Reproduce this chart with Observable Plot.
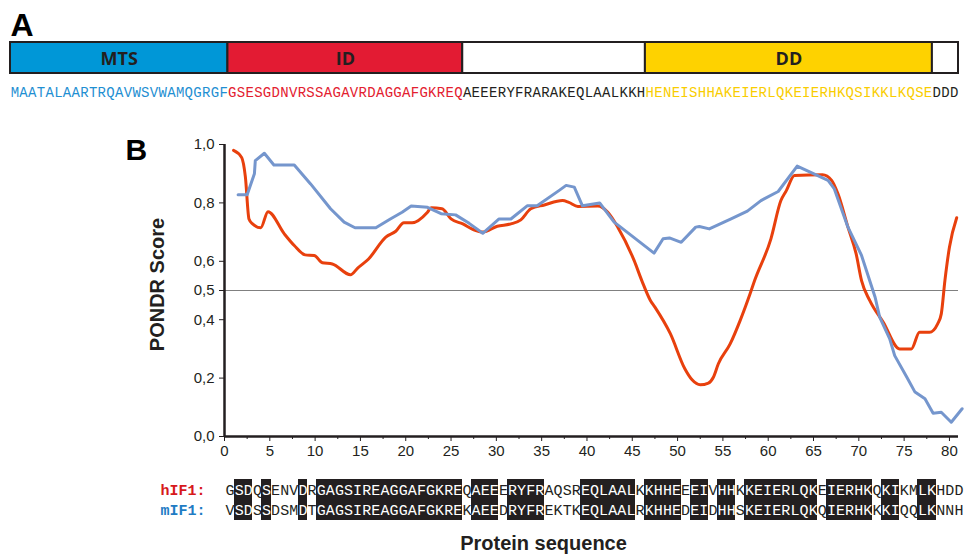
<!DOCTYPE html>
<html><head><meta charset="utf-8">
<script src="https://cdn.jsdelivr.net/npm/d3@7"></script>
<script src="https://cdn.jsdelivr.net/npm/@observablehq/plot@0.6"></script>
<style>
body{margin:0;background:#fff;}
#fig{position:relative;width:966px;height:559px;overflow:hidden;background:#fff;}
#fig > svg{position:absolute;left:0;}
</style></head><body><div id="fig"></div>
<script>
// ---- Panel A data ----
const domainNames = ["MTS", "ID", "", "DD", ""];
const domainSeqs = ["MAATALAARTRQAVWSVWAMQGRGF", "GSESGDNVRSSAGAVRDAGGAFGKREQ", "AEEERYFRARAKEQLAALKKH", "HENEISHHAKEIERLQKEIERHKQSIKKLKQSE", "DDD"];
const domainFill = ["#0097d7", "#e31b33", "#ffffff", "#fed200", "#ffffff"];
const seqColors = ["#1f8fd2", "#e3202f", "#231f20", "#f9cd00", "#231f20"];

// ---- Panel B data (PONDR score vs residue) ----
const hIF1_x = [1.0,1.9,2.3,2.7,3.1,4.0,4.8,6.6,7.7,8.9,9.9,10.8,11.9,13.9,14.7,15.9,17.8,18.9,19.8,20.7,22.4,22.8,24.0,25.0,26.3,27.5,28.5,30.1,31.6,32.7,33.8,35.3,37.3,38.0,39.0,41.2,42.3,43.4,45.2,46.05,47.0,47.5,49.2,50.8,51.6,52.5,53.4,53.95,54.5,55.8,56.9,58.0,58.5,60.3,61.4,62.0,62.9,66.0,67.0,67.7,68.8,69.7,70.3,71.2,72.7,74.5,75.8,76.7,77.8,78.7,79.1,79.5,80.0,80.8];
const hIF1_y = [0.98,0.955,0.89,0.745,0.728,0.715,0.77,0.694,0.654,0.622,0.62,0.595,0.591,0.554,0.577,0.608,0.683,0.703,0.732,0.732,0.768,0.783,0.78,0.745,0.728,0.708,0.70,0.72,0.728,0.742,0.78,0.793,0.808,0.802,0.788,0.789,0.768,0.717,0.603,0.534,0.466,0.443,0.352,0.232,0.194,0.177,0.183,0.203,0.249,0.317,0.397,0.489,0.534,0.677,0.808,0.842,0.894,0.896,0.877,0.831,0.717,0.626,0.534,0.466,0.391,0.30,0.30,0.357,0.357,0.386,0.42,0.534,0.648,0.749];
const mIF1_x = [1.5,2.5,3.3,3.4,4.4,5.45,7.7,9.5,11.7,13.2,14.4,16.7,18.3,19.6,20.6,22.4,23.9,25.5,27.0,28.5,30.3,31.6,33.4,34.5,36.9,37.7,38.6,39.5,41.4,43.0,47.4,48.4,49.1,50.4,52.0,52.4,53.5,55.9,57.7,59.2,61.1,63.2,66.6,67.3,68.8,70.3,71.8,72.3,73.4,73.96,75.3,76.2,77.3,78.2,79.1,80.2,81.4];
const mIF1_y = [0.828,0.828,0.90,0.945,0.97,0.93,0.93,0.865,0.78,0.734,0.715,0.715,0.745,0.768,0.789,0.785,0.763,0.759,0.73,0.696,0.745,0.745,0.79,0.79,0.842,0.86,0.854,0.79,0.80,0.734,0.628,0.677,0.68,0.665,0.717,0.719,0.711,0.745,0.772,0.808,0.839,0.926,0.877,0.848,0.717,0.62,0.477,0.409,0.335,0.277,0.203,0.152,0.129,0.08,0.083,0.049,0.095];
const yTicks = [0, 0.2, 0.4, 0.5, 0.6, 0.8, 1.0];
const xTicks = [0,5,10,15,20,25,30,35,40,45,50,55,60,65,70,75,80];
const xMinorTicks = [2.5,7.5,12.5,17.5,22.5,27.5,32.5,37.5,42.5,47.5,52.5,57.5,62.5,67.5,72.5,77.5];

// ---- Alignment data ----
const seqNames = ["hIF1", "mIF1"];
const seqLabelColors = ["#d7191c", "#1f7cc4"];
const hIF1_seq = "GSDQSENVDRGAGSIREAGGAFGKREQAEEERYFRAQSREQLAALKKHHEEEIVHHKKEIERLQKEIERHKQKIKMLKHDD";
const mIF1_seq = "VSDSSDSMDTGAGSIREAGGAFGKREKAEEDRYFREKTKEQLAALRKHHEDEIDHHSKEIERLQKQIERHKKKIQQLKNNH";

const RED = "#e8400d", BLUE = "#7596cd", INK = "#231f20";
const fig = document.getElementById("fig");
const baseStyle = {fontFamily: "'Liberation Sans', Arial, sans-serif", fontSize: "15px", color: INK, background: "transparent", overflow: "visible"};

// ---------- Panel A ----------
const domains = [];
let acc = 0;
domainSeqs.forEach((s, k) => { domains.push({name: domainNames[k], start: acc, end: acc + s.length, fill: domainFill[k]}); acc += s.length; });
const residuesA = [];
domainSeqs.forEach((s, k) => { [...s].forEach((ch, j) => residuesA.push({pos: domains[k].start + j + 0.5, ch, color: seqColors[k]})); });

const plotA = Plot.plot({
  width: 966, height: 105, marginLeft: 10, marginRight: 8, marginTop: 42, marginBottom: 32,
  style: baseStyle,
  x: {domain: [0, acc], axis: null},
  color: {type: "identity"},
  marks: [
    Plot.rect(domains, {x1: "start", x2: "end", fill: "fill", stroke: INK, strokeWidth: 2}),
    Plot.text(domains, {x: d => (d.start + d.end) / 2, text: "name", frameAnchor: "middle", dy: 1, fontFamily: "'Open Sans', sans-serif", fontWeight: 700, fontSize: 18, fill: INK}),
    Plot.text(residuesA, {x: "pos", text: "ch", fill: "color", frameAnchor: "bottom", dy: 23, fontFamily: "'Liberation Mono', monospace", fontSize: 14}),
    Plot.text(["A"], {frameAnchor: "top-left", text: d => d, textAnchor: "start", lineAnchor: "bottom", dy: -7, fontSize: 32, fontWeight: 700, fill: "#000"})
  ]
});
plotA.style.top = "0px";
fig.appendChild(plotA);

// ---------- Panel B ----------
const hData = hIF1_x.map((x, i) => ({x, y: hIF1_y[i]}));
const mData = mIF1_x.map((x, i) => ({x, y: mIF1_y[i]}));
const fmt = d => d.toFixed(1).replace(".", ",");

const plotB = Plot.plot({
  width: 966, height: 350, marginLeft: 224, marginRight: 8, marginTop: 24, marginBottom: 34,
  style: baseStyle,
  x: {domain: [0, 81]},
  y: {domain: [0, 1]},
  marks: [
    Plot.ruleY([0.5], {stroke: "#808080", strokeWidth: 1.2}),
    Plot.line(hData, {x: "x", y: "y", stroke: RED, strokeWidth: 3, curve: "monotone-x"}),
    Plot.line(mData, {x: "x", y: "y", stroke: BLUE, strokeWidth: 3}),
    Plot.axisY(yTicks, {tickFormat: fmt, tickSize: 5, tickPadding: 5, fontSize: 15, label: null, stroke: INK, fill: INK}),
    Plot.axisX(xTicks, {tickSize: 5, tickPadding: 4, fontSize: 15, label: null, stroke: INK, fill: INK}),
    Plot.axisX(xMinorTicks, {tickSize: 3, tickFormat: () => "", label: null, stroke: INK}),
    Plot.ruleX([0], {stroke: INK, strokeWidth: 2.5}),
    Plot.ruleY([0], {stroke: INK, strokeWidth: 2.5}),
    Plot.text(["B"], {frameAnchor: "top-left", text: d => d, textAnchor: "start", lineAnchor: "bottom", dx: -99, dy: 15, fontSize: 30, fontWeight: 700, fill: "#000"}),
    Plot.text(["PONDR Score"], {frameAnchor: "left", text: d => d, textAnchor: "middle", rotate: -90, dx: -67, dy: -6, fontSize: 20, fontWeight: 700, fill: INK})
  ]
});
plotB.style.top = "120px";
fig.appendChild(plotB);

// ---------- Alignment ----------
const chars = [];
[hIF1_seq, mIF1_seq].forEach((s, k) => {
  [...s].forEach((ch, j) => chars.push({pos: j + 1, seq: seqNames[k], ch, same: hIF1_seq[j] === mIF1_seq[j]}));
});
const identical = [...hIF1_seq].map((ch, j) => ({pos: j + 1, same: ch === mIF1_seq[j]})).filter(d => d.same);
const labels = seqNames.map((n, k) => ({seq: n, text: n + ":", color: seqLabelColors[k]}));

const plotC = Plot.plot({
  width: 966, height: 89, marginLeft: 225, marginRight: 3, marginTop: 9, marginBottom: 39,
  style: baseStyle,
  x: {domain: [0.5, 81.5], axis: null},
  y: {type: "point", domain: seqNames, padding: 0.5, axis: null},
  color: {type: "identity"},
  marks: [
    Plot.rect(identical, {x1: d => d.pos - 0.5, x2: d => d.pos + 0.5, fill: INK, shapeRendering: "crispEdges"}),
    Plot.text(chars, {x: "pos", y: "seq", text: "ch", fill: d => d.same ? "#ffffff" : INK, fontFamily: "'Liberation Mono', monospace", fontSize: 15}),
    Plot.text(labels, {y: "seq", text: "text", fill: "color", frameAnchor: "left", textAnchor: "end", dx: -20, fontFamily: "'Liberation Mono', monospace", fontWeight: 700, fontSize: 15}),
    Plot.text(["Protein sequence"], {frameAnchor: "bottom", text: d => d, dx: -51, dy: 29, fontSize: 20, fontWeight: 700, fill: INK})
  ]
});
plotC.style.top = "470px";
fig.appendChild(plotC);
</script></body></html>
